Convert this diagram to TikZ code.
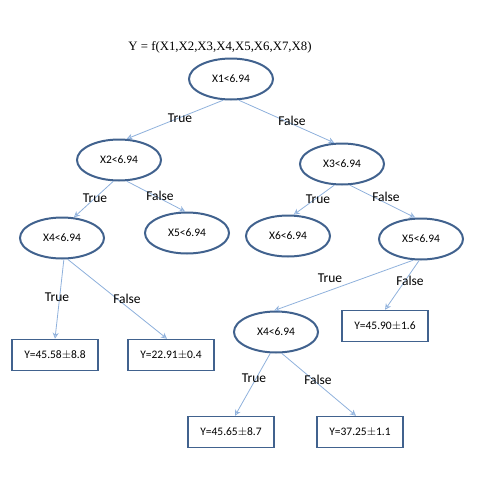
\documentclass[tikz,border=0pt]{standalone}
\usepackage{fontspec}
\setmainfont{Carlito}
\newfontfamily\titlefont{Liberation Serif}
\usetikzlibrary{arrows.meta, shapes.geometric}
\definecolor{DBlue}{HTML}{41628E}
\definecolor{LBlue}{HTML}{8FB1DC}

\begin{document}
\begin{tikzpicture}[x=1pt, y=-1pt,
    split/.style={draw=DBlue, line width=2pt, ellipse, minimum width=84pt, minimum height=41pt, inner sep=0pt, font=\fontsize{11.5}{12}\selectfont},
    leaf/.style={draw=DBlue, line width=1.5pt, rectangle, minimum width=86pt, minimum height=31pt, inner sep=0pt, font=\fontsize{11.5}{12}\selectfont},
    edge/.style={LBlue, line width=0.8pt, -{Stealth[length=6pt, width=6pt, open]}},
    lab/.style={font=\fontsize{13.5}{14}\selectfont, inner sep=1pt}]
\useasboundingbox (0,0) rectangle (478,480);

\node[font=\titlefont\fontsize{12.8}{14}\selectfont] (title) at (220,47) {Y = f(X1,X2,X3,X4,X5,X6,X7,X8)};

% splits
\node[split] (x1) at (231,79) {X1<6.94};
\node[split] (x2) at (119,160) {X2<6.94};
\node[split] (x3) at (342,164) {X3<6.94};
\node[split] (x4a) at (62,238) {X4<6.94};
\node[split] (x5a) at (187,233) {X5<6.94};
\node[split] (x6) at (288,236) {X6<6.94};
\node[split] (x5b) at (421,239) {X5<6.94};
\node[split] (x4b) at (276,332) {X4<6.94};

% leaves
\node[leaf] (y1) at (55,355) {Y=45.58$\pm$8.8};
\node[leaf] (y2) at (171,355) {Y=22.91$\pm$0.4};
\node[leaf] (y3) at (385,326) {Y=45.90$\pm$1.6};
\node[leaf] (y4) at (231,432) {Y=45.65$\pm$8.7};
\node[leaf] (y5) at (360,432) {Y=37.25$\pm$1.1};

% branches
\draw[edge] (x1.-110) -- (x2.70);
\draw[edge] (x1.-70) -- (x3.110);
\draw[edge] (x2.-105) -- (x4a.60);
\draw[edge] (x2.-70) -- (x5a.95);
\draw[edge] (x3.-110) -- (x6.75);
\draw[edge] (x3.-70) -- (x5b.105);
\draw[edge] (x4a.-85) -- (y1.north);
\draw[edge] (x4a.-75) -- ([xshift=-4pt]y2.north);
\draw[edge] (x5b.-110) -- (x4b.95);
\draw[edge] (x5b.-95) -- (y3.north);
\draw[edge] (x4b.-105) -- ([xshift=4pt]y4.north);
\draw[edge] (x4b.-75) -- ([xshift=-4pt]y5.north);

% branch labels
\node[lab] (t1) at (180,118) {True};
\node[lab] (f1) at (292,121) {False};
\node[lab] (t2) at (95,198) {True};
\node[lab] (f2) at (160,196) {False};
\node[lab] (t3) at (318,199) {True};
\node[lab] (f3) at (386,197) {False};
\node[lab] (t4) at (57,297) {True};
\node[lab] (f4) at (127,299) {False};
\node[lab] (t5) at (330,278) {True};
\node[lab] (f5) at (410,281) {False};
\node[lab] (t6) at (254,378) {True};
\node[lab] (f6) at (318,380) {False};
\end{tikzpicture}
\end{document}
